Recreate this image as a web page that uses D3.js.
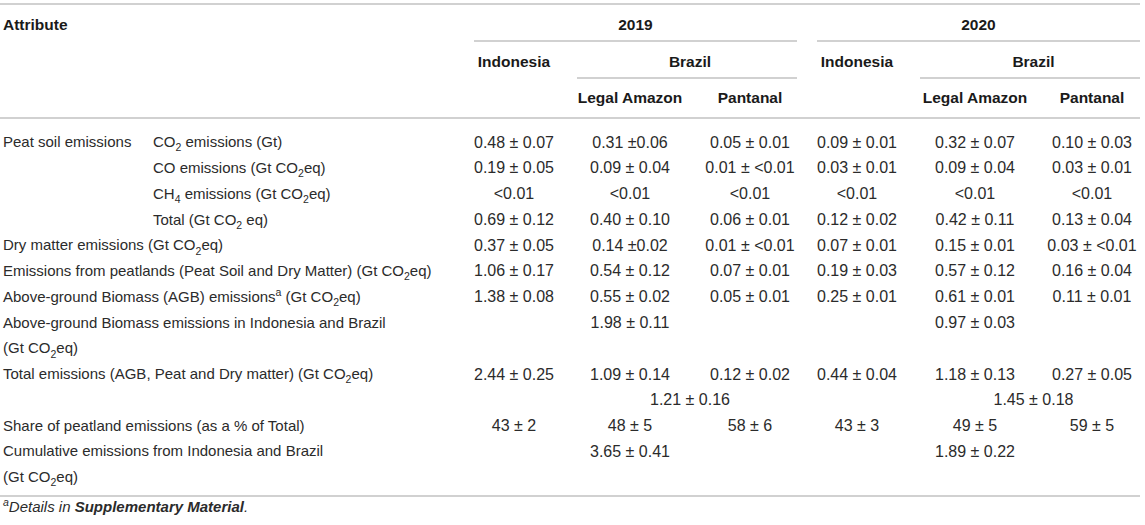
<!DOCTYPE html>
<html>
<head>
<meta charset="utf-8">
<script src="https://cdn.jsdelivr.net/npm/d3@7"></script>
<style>
  html, body { margin: 0; padding: 0; background: #fff; }
  svg { display: block; font-family: "Liberation Sans", Arial, Helvetica, sans-serif; }
</style>
</head>
<body>
<svg id="table"></svg>
<script>
/* ============================================================
   Peat / biomass emissions table, 2019 vs 2020
   ============================================================ */

// ── DATA ────────────────────────────────────────────────────
const years = ['2019', '2020'];
const regions = ['Indonesia', 'Brazil'];
const subRegions = ['Legal Amazon', 'Pantanal'];
const columnKeys = ['ind19', 'la19', 'pan19', 'ind20', 'la20', 'pan20'];

// group label (left-most), and attribute label on each text line
const groupLabels = ['Peat soil emissions'];
const subLabels = [
  'CO<sub>2</sub> emissions (Gt)',
  'CO emissions (Gt CO<sub>2</sub>eq)',
  'CH<sub>4</sub> emissions (Gt CO<sub>2</sub>eq)',
  'Total (Gt CO<sub>2</sub> eq)'
];
const rowLabels = [
  'Dry matter emissions (Gt CO<sub>2</sub>eq)',
  'Emissions from peatlands (Peat Soil and Dry Matter) (Gt CO<sub>2</sub>eq)',
  'Above-ground Biomass (AGB) emissions<sup>a</sup> (Gt CO<sub>2</sub>eq)',
  'Above-ground Biomass emissions in Indonesia and Brazil',
  '(Gt CO<sub>2</sub>eq)',
  'Total emissions (AGB, Peat and Dry matter) (Gt CO<sub>2</sub>eq)',
  '',
  'Share of peatland emissions (as a % of Total)',
  'Cumulative emissions from Indonesia and Brazil',
  '(Gt CO<sub>2</sub>eq)'
];

// line index of each per-column value row
const valueLines = [0, 1, 2, 3, 4, 5, 6, 9, 11];
const ind19 = ['0.48 ± 0.07', '0.19 ± 0.05', '<0.01', '0.69 ± 0.12', '0.37 ± 0.05', '1.06 ± 0.17', '1.38 ± 0.08', '2.44 ± 0.25', '43 ± 2'];
const la19  = ['0.31 ±0.06', '0.09 ± 0.04', '<0.01', '0.40 ± 0.10', '0.14 ±0.02', '0.54 ± 0.12', '0.55 ± 0.02', '1.09 ± 0.14', '48 ± 5'];
const pan19 = ['0.05 ± 0.01', '0.01 ± <0.01', '<0.01', '0.06 ± 0.01', '0.01 ± <0.01', '0.07 ± 0.01', '0.05 ± 0.01', '0.12 ± 0.02', '58 ± 6'];
const ind20 = ['0.09 ± 0.01', '0.03 ± 0.01', '<0.01', '0.12 ± 0.02', '0.07 ± 0.01', '0.19 ± 0.03', '0.25 ± 0.01', '0.44 ± 0.04', '43 ± 3'];
const la20  = ['0.32 ± 0.07', '0.09 ± 0.04', '<0.01', '0.42 ± 0.11', '0.15 ± 0.01', '0.57 ± 0.12', '0.61 ± 0.01', '1.18 ± 0.13', '49 ± 5'];
const pan20 = ['0.10 ± 0.03', '0.03 ± 0.01', '<0.01', '0.13 ± 0.04', '0.03 ± <0.01', '0.16 ± 0.04', '0.11 ± 0.01', '0.27 ± 0.05', '59 ± 5'];

// merged cells (one per year)
const agbCombined  = ['1.98 ± 0.11', '0.97 ± 0.03'];
const brazilTotal  = ['1.21 ± 0.16', '1.45 ± 0.18'];
const cumulative   = ['3.65 ± 0.41', '1.89 ± 0.22'];

const footnote = '<sup>a</sup>Details in <b>Supplementary Material</b>.';

// ── CONFIG ──────────────────────────────────────────────────
const W = 1145, H = 525;
const FS_LABEL = 15;
const FS_HEAD = 15.5;
const FS_VALUE = 16;
const FS_NOTE = 15;
const TEXT = '#2b2b2b';
const HEAD = '#1a1a1a';
const RULE = '#c2c2c2';
const RULE_W = 1.6;

const svg = d3.select('#table').attr('width', W).attr('height', H);

// column centers
const x = d3.scaleOrdinal().domain(columnKeys).range([514, 630, 750, 857, 975, 1092]);
// body text lines
const y = d3.scaleLinear().domain([0, 13]).range([142, 477]);
// header rows
const yHead = d3.scalePoint().domain(['year', 'region', 'sub']).range([25, 98]);

const mid = (a, b) => (x(a) + x(b)) / 2;

// ── RICH TEXT (sub / sup / bold) ─────────────────────────────
function richText(sel, str, fs) {
  const parts = str.split(/(<sub>.*?<\/sub>|<sup>.*?<\/sup>|<b>.*?<\/b>)/).filter(s => s);
  let shift = 0;
  parts.forEach(p => {
    let m, target = 0, txt = p, small = false, bold = false;
    if ((m = p.match(/^<sub>(.*)<\/sub>$/))) { target = fs * 0.28; txt = m[1]; small = true; }
    else if ((m = p.match(/^<sup>(.*)<\/sup>$/))) { target = -fs * 0.38; txt = m[1]; small = true; }
    else if ((m = p.match(/^<b>(.*)<\/b>$/))) { txt = m[1]; bold = true; }
    const t = sel.append('tspan').text(txt);
    if (target - shift !== 0) t.attr('dy', target - shift);
    if (small) t.attr('font-size', fs * 0.7);
    if (bold) t.attr('font-weight', 'bold');
    shift = target;
  });
}

// ── RULES ────────────────────────────────────────────────────
const rules = [
  { x1: 0, x2: 1140, y: 4 },
  { x1: 474, x2: 797, y: 41 },
  { x1: 817, x2: 1140, y: 41 },
  { x1: 577, x2: 797, y: 78 },
  { x1: 920, x2: 1140, y: 78 },
  { x1: 0, x2: 1140, y: 118 },
  { x1: 0, x2: 1140, y: 496 }
];
svg.append('g').selectAll('line')
  .data(rules)
  .join('line')
  .attr('x1', d => d.x1).attr('x2', d => d.x2)
  .attr('y1', d => d.y).attr('y2', d => d.y)
  .attr('stroke', RULE)
  .attr('stroke-width', RULE_W);

// ── HEADER ───────────────────────────────────────────────────
const head = svg.append('g')
  .attr('font-size', FS_HEAD)
  .attr('font-weight', 'bold')
  .attr('fill', HEAD)
  .attr('text-anchor', 'middle');

head.append('text')
  .attr('x', 3).attr('y', yHead('year')).attr('dy', '0.35em')
  .attr('text-anchor', 'start')
  .text('Attribute');

head.selectAll('.year')
  .data(years)
  .join('text')
  .attr('class', 'year')
  .attr('x', (d, i) => i === 0 ? (474 + 797) / 2 : (817 + 1140) / 2)
  .attr('y', yHead('year')).attr('dy', '0.35em')
  .text(d => d);

const regionCells = [
  { t: regions[0], x: x('ind19') },
  { t: regions[1], x: mid('la19', 'pan19') },
  { t: regions[0], x: x('ind20') },
  { t: regions[1], x: mid('la20', 'pan20') }
];
head.selectAll('.region')
  .data(regionCells)
  .join('text')
  .attr('class', 'region')
  .attr('x', d => d.x)
  .attr('y', yHead('region')).attr('dy', '0.35em')
  .text(d => d.t);

const subCells = [
  { t: subRegions[0], k: 'la19' }, { t: subRegions[1], k: 'pan19' },
  { t: subRegions[0], k: 'la20' }, { t: subRegions[1], k: 'pan20' }
];
head.selectAll('.sub')
  .data(subCells)
  .join('text')
  .attr('class', 'sub')
  .attr('x', d => x(d.k))
  .attr('y', yHead('sub')).attr('dy', '0.35em')
  .text(d => d.t);

// ── ROW LABELS ───────────────────────────────────────────────
const labels = svg.append('g').attr('font-size', FS_LABEL).attr('fill', TEXT);

labels.append('text')
  .attr('x', 3).attr('y', y(0)).attr('dy', '0.35em')
  .text(groupLabels[0]);

subLabels.forEach((s, i) => {
  labels.append('text')
    .attr('x', 153).attr('y', y(i)).attr('dy', '0.35em')
    .call(richText, s, FS_LABEL);
});

rowLabels.forEach((s, i) => {
  if (!s) return;
  labels.append('text')
    .attr('x', 3).attr('y', y(i + subLabels.length)).attr('dy', '0.35em')
    .call(richText, s, FS_LABEL);
});

// ── VALUES ───────────────────────────────────────────────────
const columns = [ind19, la19, pan19, ind20, la20, pan20];
const cells = [];
columns.forEach((col, c) => {
  col.forEach((v, r) => cells.push({ k: columnKeys[c], line: valueLines[r], v }));
});
// merged cells
agbCombined.forEach((v, i) => cells.push({ cx: x(i ? 'la20' : 'la19'), line: 7, v }));
brazilTotal.forEach((v, i) => cells.push({ cx: i ? mid('la20', 'pan20') : mid('la19', 'pan19'), line: 10, v }));
cumulative.forEach((v, i) => cells.push({ cx: x(i ? 'la20' : 'la19'), line: 12, v }));

svg.append('g')
  .attr('font-size', FS_VALUE)
  .attr('fill', TEXT)
  .attr('text-anchor', 'middle')
  .selectAll('text')
  .data(cells)
  .join('text')
  .attr('x', d => d.cx !== undefined ? d.cx : x(d.k))
  .attr('y', d => y(d.line))
  .attr('dy', '0.35em')
  .text(d => d.v);

// ── FOOTNOTE ─────────────────────────────────────────────────
svg.append('text')
  .attr('x', 3).attr('y', 512).attr('dy', '0.35em')
  .attr('font-size', FS_NOTE)
  .attr('font-style', 'italic')
  .attr('fill', TEXT)
  .call(richText, footnote, FS_NOTE);
</script>
</body>
</html>
